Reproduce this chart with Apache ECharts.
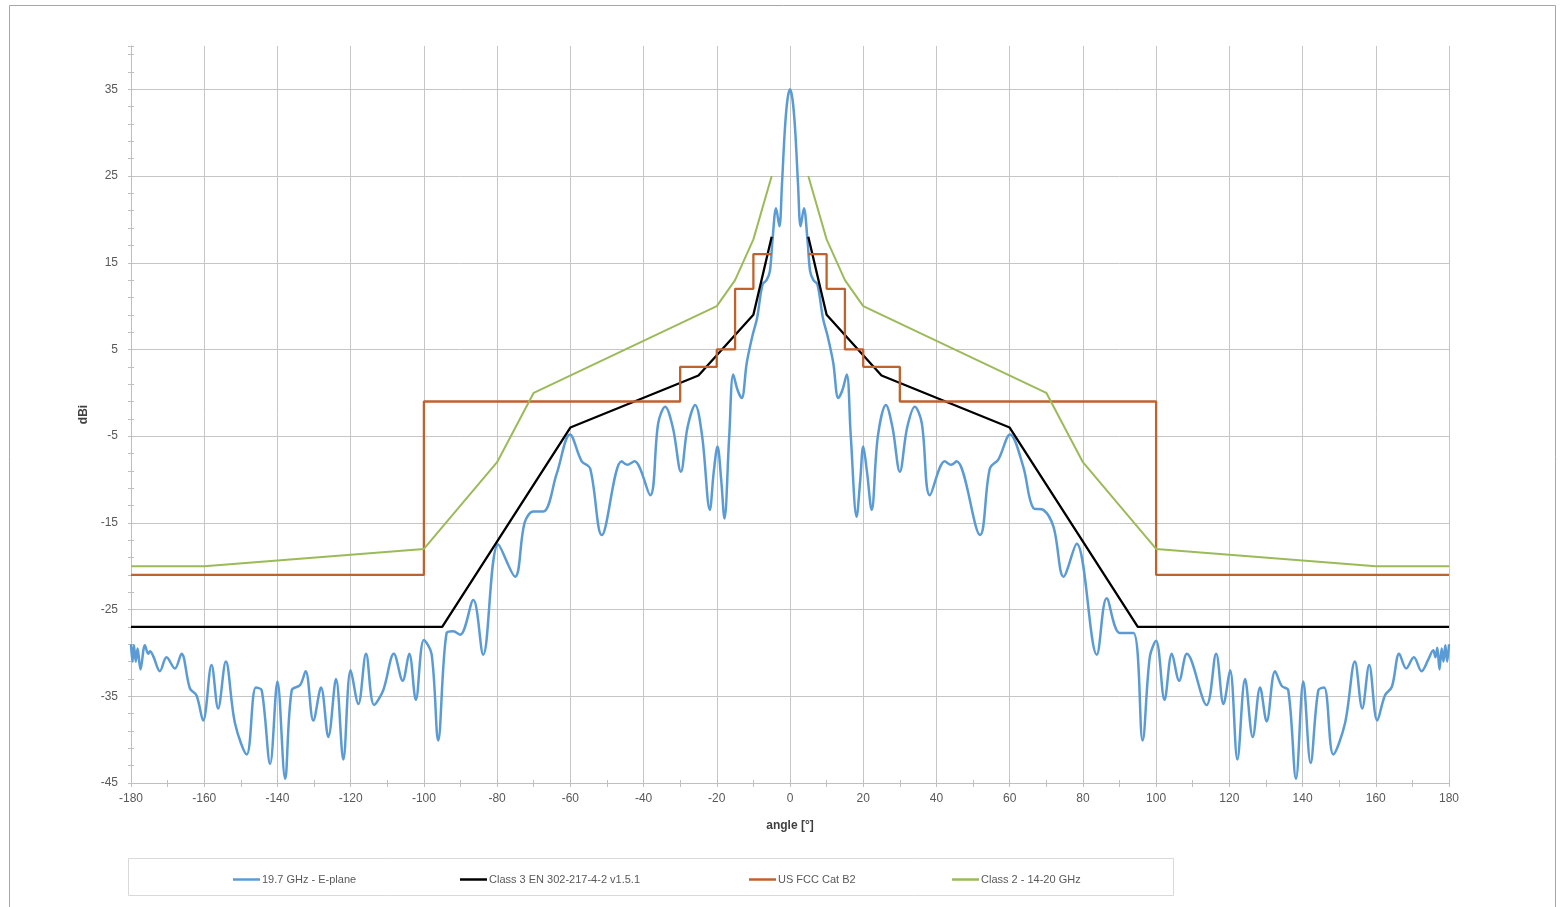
<!DOCTYPE html>
<html>
<head>
<meta charset="utf-8">
<script src="https://cdn.jsdelivr.net/npm/echarts@6/dist/echarts.min.js"></script>
<style>
html,body{margin:0;padding:0;background:#fff;}
#chart{width:1564px;height:907px;}
</style>
</head>
<body>
<div id="chart"></div>
<script>
// ---- data ----
const seriesNames = ['19.7 GHz - E-plane', 'Class 3 EN 302-217-4-2 v1.5.1', 'US FCC Cat B2', 'Class 2 - 14-20 GHz'];

// measured pattern [angle, dBi]
const ePlane = [
  [-180,-29],[-179.6,-31],[-179.2,-29.1],[-178.7,-31],[-178.2,-29.5],[-177.4,-31.9],[-176.2,-29.1],[-175.3,-30.1],
  [-174.8,-29.8],[-173.9,-30.4],[-172.1,-32.1],[-170.3,-30.5],[-168,-31.8],[-166.2,-30.1],[-163.9,-34.1],[-162.1,-34.9],
  [-160.3,-37.8],[-158,-31.4],[-156.2,-36.4],[-154.1,-31],[-151.6,-38.1],[-148.4,-41.7],[-145.9,-34],[-144.3,-34.3],
  [-142,-42.8],[-140,-33.3],[-137.9,-44.5],[-136.1,-34.3],[-133.8,-33.7],[-132.3,-32.1],[-130.2,-37.8],[-128.1,-34],
  [-126.1,-39.7],[-124,-33],[-122,-42.3],[-120,-32],[-117.9,-35.9],[-115.8,-30.1],[-113.6,-36],[-111.1,-34.3],
  [-108.2,-30.1],[-105.8,-33.2],[-104,-30.1],[-102.2,-35.4],[-100,-28.5],[-97.9,-30.1],[-96.1,-40.1],[-93.8,-27.7],
  [-92,-27.5],[-90.1,-27.9],[-86.5,-23.9],[-83.8,-30.2],[-79.7,-17.5],[-75.1,-21.2],[-72.5,-15],[-70.1,-13.7],
  [-67.4,-13.7],[-63.7,-9.3],[-60.1,-4.8],[-56.9,-7.9],[-54.6,-8.7],[-51.4,-16.4],[-46,-7.9],[-44.5,-8.3],
  [-42.5,-7.9],[-38.2,-11.8],[-36,-3.5],[-34.1,-1.6],[-32,-4],[-29.8,-9.1],[-28,-4],[-25.9,-1.4],
  [-24,-5],[-21.9,-13.5],[-20.8,-9],[-19.8,-6.2],[-18.8,-10],[-17.9,-14.5],[-16.6,-5],[-15.5,2.1],
  [-14.3,0.3],[-13.2,-0.6],[-11.8,3.5],[-10.3,6.5],[-9,8.6],[-7.5,12.5],[-6.4,13],[-5.5,14],
  [-4.8,17.5],[-3.8,21.3],[-2.9,19.2],[-2.2,24],[-1.4,30.4],[-0.7,33.8],[0,35],
  [0.7,33.8],[1.4,30.4],[2.2,24],[2.9,19.2],[3.8,21.3],[4.8,17.5],[5.5,14],[6.4,13],
  [7.5,12.5],[9,8.6],[10.3,6.5],[11.8,3.5],[13.2,-0.6],[14.3,0.3],[15.5,2.1],[16.6,-5],
  [18.2,-14.3],[19.2,-10],[20,-6.2],[21,-9],[22.3,-13.5],[24,-5],[26.2,-1.4],[28,-4],
  [30,-9.1],[32,-4],[34.1,-1.6],[36,-3.5],[38.2,-11.8],[42.3,-7.9],[44,-8.3],[45.5,-7.9],
  [51.9,-16.4],[54.6,-8.7],[56.9,-7.7],[60.1,-4.8],[63.7,-8.5],[66.5,-13.3],[69.2,-13.5],[72,-15.5],
  [74.7,-21.2],[78.3,-17.4],[83.8,-30.2],[86.5,-23.7],[90.1,-27.7],[93.8,-27.7],[96.3,-40.1],[98.3,-30.4],
  [100,-28.6],[102.3,-35.4],[104.3,-30.1],[106.3,-33.2],[108.4,-30.1],[113.8,-36],[116.4,-30.1],[118.4,-35.9],
  [120.2,-32],[122.2,-42.3],[124.3,-33],[126.4,-39.7],[128.4,-34],[130.2,-37.9],[132.5,-32.1],[134.3,-33.8],
  [136.1,-34.3],[138.2,-44.5],[140.2,-33.3],[142.2,-42.7],[144.3,-34.3],[145.9,-34],[148.4,-41.7],[151.6,-38.1],
  [154.3,-31],[156.3,-36.4],[158.2,-31.4],[160.4,-37.8],[162.5,-34.9],[164.4,-33.9],[166.4,-30.1],[168.3,-31.8],
  [170.4,-30.5],[172.5,-32.1],[174.3,-30.8],[175.7,-29.7],[176.3,-30.5],[176.8,-29.4],[177.4,-31.9],[178,-29.5],
  [178.5,-31],[179,-29.1],[179.5,-31],[180,-29]
];

// Class 3 EN 302-217-4-2 mask
const class3Left  = [[-180,-27],[-95,-27],[-60,-4],[-25,2],[-10,9],[-5,18]];
const class3Right = [[5,18],[10,9],[25,2],[60,-4],[95,-27],[180,-27]];

// US FCC Cat B2 mask
const fccLeft  = [[-180,-21],[-100,-21],[-100,-1],[-30,-1],[-30,3],[-20,3],[-20,5],[-15,5],[-15,12],[-10,12],[-10,16],[-5,16]];
const fccRight = [[5,16],[10,16],[10,12],[15,12],[15,5],[20,5],[20,3],[30,3],[30,-1],[100,-1],[100,-21],[180,-21]];

// Class 2 - 14-20 GHz mask
const class2Left  = [[-180,-20],[-160,-20],[-100,-18],[-80,-8],[-70,0],[-20,10],[-15,13],[-10,17.7],[-5,25]];
const class2Right = [[5,25],[10,17.7],[15,13],[20,10],[70,0],[80,-8],[100,-18],[160,-20],[180,-20]];

// axis ticks
const xMin = -180, xMax = 180, xStep = 20;
const yMin = -45, yMax = 40, yStep = 10;

// ---- chart ----
const FONT = '"Liberation Sans Narrow","Liberation Sans",Arial,sans-serif';
const LBL = '#595959';
const GRID = '#c6c6c6';
const TICK = '#bfbfbf';
const colors = ['#5b9bd5', '#000000', '#c0622b', '#9bbb59'];

const chart = echarts.init(document.getElementById('chart'), null, {renderer: 'canvas'});

function legendAt(idx, left) {
  return {
    data: [seriesNames[idx]], left: left, top: 869, icon: 'rect', itemWidth: 27, itemHeight: 2.5,
    itemGap: 0, selectedMode: false,
    textStyle: {fontFamily: FONT, fontSize: 11, color: LBL, padding: [0, 0, 0, -3]}
  };
}

function hiddenTickAxis(extra) {
  return Object.assign({
    type: 'value', onZero: false,
    axisLine: {show: false, onZero: false}, axisLabel: {show: false}, splitLine: {show: false}
  }, extra);
}

chart.setOption({
  animation: false,
  backgroundColor: '#ffffff',
  graphic: [
    {type: 'rect', shape: {x: 9.5, y: 5.5, width: 1546, height: 910}, style: {fill: 'none', stroke: '#a6a6a6', lineWidth: 1}, silent: true},
    {type: 'rect', shape: {x: 128.5, y: 858.5, width: 1045, height: 37}, style: {fill: 'none', stroke: '#d9d9d9', lineWidth: 1}, silent: true}
  ],
  legend: [legendAt(0, 228), legendAt(1, 455), legendAt(2, 744), legendAt(3, 947)],
  grid: {left: 131, right: 115, top: 46, bottom: 124, containLabel: false},
  xAxis: [{
    type: 'value', min: xMin, max: xMax, interval: xStep, position: 'bottom',
    name: 'angle [°]', nameLocation: 'middle', nameGap: 37,
    nameTextStyle: {fontFamily: FONT, fontSize: 12, fontWeight: 'bold', color: '#404040'},
    axisLine: {show: true, onZero: false, lineStyle: {color: TICK, width: 1}},
    axisTick: {show: true, length: 4, lineStyle: {color: TICK}},
    minorTick: {show: true, splitNumber: 2, length: 4, lineStyle: {color: TICK}},
    axisLabel: {fontFamily: FONT, fontSize: 12, color: LBL, margin: 10},
    splitLine: {show: true, lineStyle: {color: GRID, width: 1}}
  }, hiddenTickAxis({
    min: xMin, max: xMax, interval: xStep / 2, position: 'bottom',
    axisTick: {show: true, inside: true, length: 3, lineStyle: {color: TICK}}
  })],
  yAxis: [{
    type: 'value', min: yMin, max: yMax, interval: yStep, position: 'left',
    name: 'dBi', nameLocation: 'middle', nameGap: 38, nameRotate: 90,
    nameTextStyle: {fontFamily: FONT, fontSize: 12, fontWeight: 'bold', color: '#404040'},
    axisLine: {show: true, onZero: false, lineStyle: {color: TICK, width: 1}},
    axisTick: {show: false},
    axisLabel: {fontFamily: FONT, fontSize: 12, color: LBL, margin: 13,
      formatter: v => (v === yMax ? '' : String(v))},
    splitLine: {show: true, showMaxLine: false, lineStyle: {color: GRID, width: 1}}
  }, hiddenTickAxis({
    min: yMin, max: yMax, interval: 2, position: 'left',
    axisTick: {show: true, length: 3, lineStyle: {color: TICK}}
  }), hiddenTickAxis({
    min: yMin, max: yMax, interval: 2, position: 'left',
    axisTick: {show: true, inside: true, length: 3, lineStyle: {color: TICK}}
  })],
  series: [
    {name: seriesNames[0], type: 'line', data: ePlane, smooth: 0.35, showSymbol: false, symbol: 'none',
     lineStyle: {color: colors[0], width: 2.5}, itemStyle: {color: colors[0]}},
    {name: seriesNames[1], type: 'line', data: class3Left, showSymbol: false, symbol: 'none',
     lineStyle: {color: colors[1], width: 2.3}, itemStyle: {color: colors[1]}},
    {name: seriesNames[1], type: 'line', data: class3Right, showSymbol: false, symbol: 'none',
     lineStyle: {color: colors[1], width: 2.3}, itemStyle: {color: colors[1]}},
    {name: seriesNames[2], type: 'line', data: fccLeft, showSymbol: false, symbol: 'none',
     lineStyle: {color: colors[2], width: 2.3}, itemStyle: {color: colors[2]}},
    {name: seriesNames[2], type: 'line', data: fccRight, showSymbol: false, symbol: 'none',
     lineStyle: {color: colors[2], width: 2.3}, itemStyle: {color: colors[2]}},
    {name: seriesNames[3], type: 'line', data: class2Left, showSymbol: false, symbol: 'none',
     lineStyle: {color: colors[3], width: 2}, itemStyle: {color: colors[3]}},
    {name: seriesNames[3], type: 'line', data: class2Right, showSymbol: false, symbol: 'none',
     lineStyle: {color: colors[3], width: 2}, itemStyle: {color: colors[3]}}
  ]
});
</script>
</body>
</html>
